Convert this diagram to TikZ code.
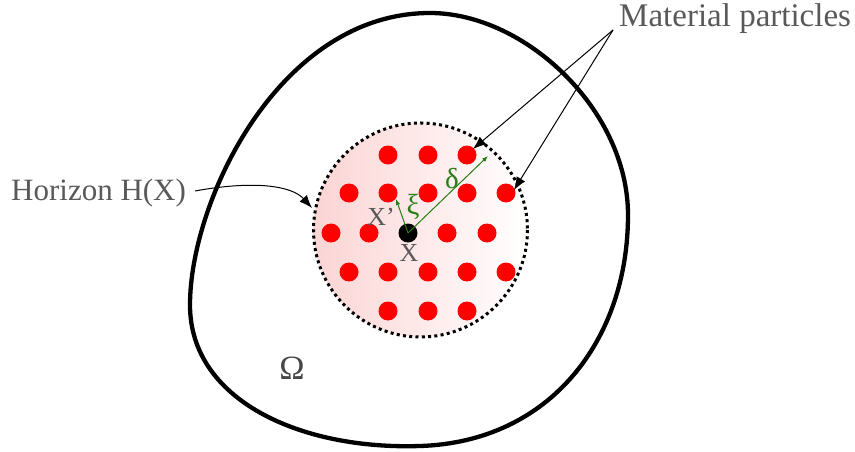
\documentclass[tikz,border=0pt]{standalone}
\usepackage{fontspec}
\setmainfont{Liberation Serif}
\usetikzlibrary{arrows.meta}
\definecolor{txtgray}{RGB}{89,89,89}
\definecolor{dgreen}{RGB}{40,125,20}
\definecolor{pinkl}{RGB}{252,212,212}
\tikzset{
  particle/.style={circle,fill=red,inner sep=0pt,minimum size=19pt},
  lbl/.style={text=txtgray,font=\fontsize{33}{35}\selectfont,inner sep=0pt},
  pointer/.style={line width=1pt,-{Latex[length=13pt,width=10pt]}},
  gvec/.style={draw=dgreen,line width=1pt,-{Latex[length=6pt,width=4.5pt]}},
}
\begin{document}
\begin{tikzpicture}[x=1pt,y=-1pt]
\useasboundingbox (0,0) rectangle (855,452);
% domain boundary
\draw[line width=4.3pt] (430,13)
  .. controls (525,13) and (628,110) .. (628,215)
  .. controls (628,340) and (550,442) .. (420,446)
  .. controls (300,450) and (190,400) .. (190,305)
  .. controls (190,200) and (280,13) .. (430,13) -- cycle;
% horizon
\shade[left color=pinkl,right color=white] (420.5,230) circle[radius=107];
\draw[line width=3pt,dash pattern=on 3pt off 3.3pt] (420.5,230) circle[radius=107];
% particles
\foreach \x/\y [count=\i] in {388/155,428/155,467/155,
  349/193,388/193,428/193,467/193,506/193,
  331/233,369/233,447/233,487/233,
  349/272,388/272,428/272,467/272,506/272,
  388/311,428/311,467/311}
  \node[particle] (p\i) at (\x,\y) {};
\node[circle,fill=black,inner sep=0pt,minimum size=19pt] (x0) at (408,233) {};
% vectors
\coordinate (xp) at (396,199);
\coordinate (dl) at (488,156);
\draw[gvec] (x0.center) -- (xp);
\draw[gvec] (x0.center) -- (dl);
\node[text=dgreen,font=\fontsize{29}{30}\selectfont,inner sep=0pt] (xi) at (413,207) {ξ};
\node[text=dgreen,font=\fontsize{29}{30}\selectfont,inner sep=0pt] (de) at (452,179) {δ};
\node[text=txtgray,font=\fontsize{26}{28}\selectfont,inner sep=0pt] (xl) at (381,217) {X'};
\node[text=txtgray,font=\fontsize{26}{28}\selectfont,inner sep=0pt] (xx) at (409,253) {X};
% labels
\node[lbl,anchor=west] (mat) at (619,19) {Material particles};
\node[lbl,anchor=west,font=\fontsize{31}{33}\selectfont] (hor) at (11,193) {Horizon H(X)};
\node[text=txtgray!80!black,font=\fontsize{34}{36}\selectfont,inner sep=0pt] (om) at (292,368) {Ω};
\coordinate (ms) at (613,30);
\coordinate (t1) at (473,149);
\coordinate (t2) at (514,190);
\coordinate (ht) at (312,208);
\draw[pointer] (195,191) .. controls (255,180) and (292,186) .. (ht);
\draw[pointer] (ms) -- (t1);
\draw[pointer] (ms) -- (t2);
\end{tikzpicture}
\end{document}
